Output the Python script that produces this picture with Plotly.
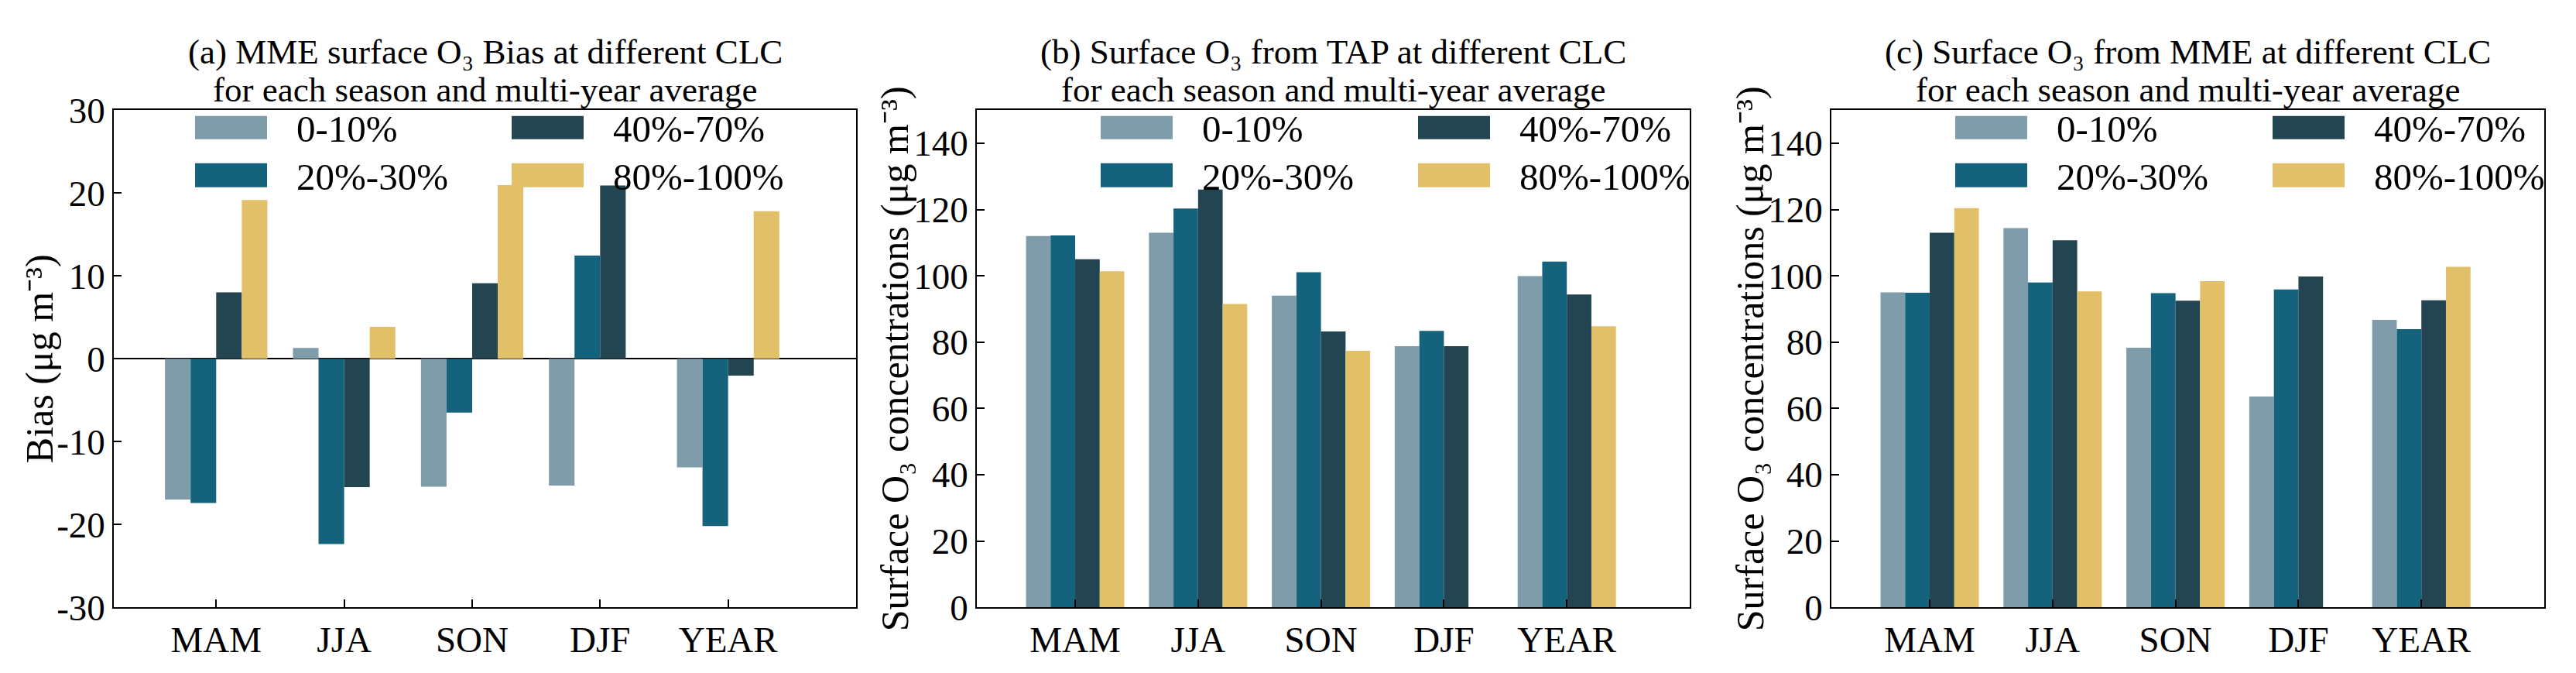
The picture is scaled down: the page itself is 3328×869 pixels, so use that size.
import plotly.graph_objects as go

# ---------------- data ----------------
seasons = ["MAM", "JJA", "SON", "DJF", "YEAR"]
clc_labels = ["0-10%", "20%-30%", "40%-70%", "80%-100%"]
clc_colors = ["#7f9caa", "#15627d", "#234552", "#e2c06a"]

# (a) MME surface O3 bias
bias_0_10 = [-17.0, 1.3, -15.45, -15.3, -13.1]
bias_20_30 = [-17.4, -22.35, -6.5, 12.45, -20.2]
bias_40_70 = [8.0, -15.5, 9.1, 20.9, -2.05]
bias_80_100 = [19.15, 3.85, 20.95, None, 17.8]

# (b) surface O3 from TAP
tap_0_10 = [112.0, 113.0, 94.0, 78.8, 99.9]
tap_20_30 = [112.2, 120.3, 101.1, 83.4, 104.3]
tap_40_70 = [105.0, 126.0, 83.2, 78.8, 94.4]
tap_80_100 = [101.4, 91.5, 77.4, None, 84.8]

# (c) surface O3 from MME
mme_0_10 = [95.0, 114.4, 78.3, 63.6, 86.7]
mme_20_30 = [94.9, 98.0, 94.8, 95.9, 83.9]
mme_40_70 = [113.0, 110.7, 92.5, 99.8, 92.6]
mme_80_100 = [120.4, 95.3, 98.4, None, 102.7]

bias_ticks = [-30, -20, -10, 0, 10, 20, 30]
conc_ticks = [0, 20, 40, 60, 80, 100, 120, 140]

title_line2 = "for each season and multi-year average"
titles_a = ["(a) MME surface O₃ Bias at different CLC", title_line2]
titles_b = ["(b) Surface O₃ from TAP at different CLC", title_line2]
titles_c = ["(c) Surface O₃ from MME at different CLC", title_line2]
ylabel_a = "Bias (μg m⁻³)"
ylabel_bc = "Surface O₃ concentrations (μg m⁻³)"

# ---------------- layout helpers ----------------
W, H = 3328, 869
FONT = "Liberation Serif"
FS_TICK = 47
FS_TITLE = 45
FS_YLAB = 50
FS_LEG = 49


def fx(p):
    return p / W


def fy(p):
    return 1 - p / H


AX_TOP, AX_BOT = 115, 798

panels = [
    dict(sfx="", left=139, right=1098, series=[bias_0_10, bias_20_30, bias_40_70, bias_80_100],
         titles=titles_a, ylabel=ylabel_a, ylab_x=43, yrange=[-30, 30], ticks=bias_ticks,
         leg_off=(105, 514), zeroline=True),
    dict(sfx="2", left=1254, right=2175, series=[tap_0_10, tap_20_30, tap_40_70, tap_80_100],
         titles=titles_b, ylabel=ylabel_bc, ylab_x=1148, yrange=[0, 150], ticks=conc_ticks,
         leg_off=(160, 570), zeroline=False),
    dict(sfx="3", left=2358, right=3279, series=[mme_0_10, mme_20_30, mme_40_70, mme_80_100],
         titles=titles_c, ylabel=ylabel_bc, ylab_x=2253, yrange=[0, 150], ticks=conc_ticks,
         leg_off=(160, 570), zeroline=False),
]

fig = go.Figure()
shapes = []
annotations = []
layout_axes = {}

for p in panels:
    xa = "x" + p["sfx"]
    ya = "y" + p["sfx"]
    for vals, name, col in zip(p["series"], clc_labels, clc_colors):
        fig.add_trace(go.Bar(x=seasons, y=vals, name=name, marker_color=col,
                             marker_line_width=0, xaxis=xa, yaxis=ya, showlegend=False))
    layout_axes["xaxis" + p["sfx"]] = dict(
        domain=[fx(p["left"]), fx(p["right"])], anchor=ya, type="category",
        range=[-0.8, 5.0], showline=True, linecolor="black", linewidth=1.5, mirror=True,
        ticks="inside", ticklen=10, tickwidth=1.5, tickcolor="black", showgrid=False,
        tickfont=dict(family=FONT, size=FS_TICK, color="black"), fixedrange=True)
    layout_axes["yaxis" + p["sfx"]] = dict(
        domain=[fy(AX_BOT), fy(AX_TOP)], anchor=xa, range=p["yrange"],
        tickvals=p["ticks"], ticktext=[str(t) for t in p["ticks"]],
        showline=True, linecolor="black", linewidth=1.5, mirror=True,
        ticks="inside", ticklen=10, tickwidth=1.5, tickcolor="black", showgrid=False,
        zeroline=p["zeroline"], zerolinecolor="black", zerolinewidth=2,
        tickfont=dict(family=FONT, size=FS_TICK, color="black"), fixedrange=True)

    cx = (p["left"] + p["right"]) / 2
    # two-line title, one annotation per line
    for txt, yc in zip(p["titles"], [35, 87]):
        annotations.append(dict(text=txt, x=fx(cx), y=fy(yc), xref="paper", yref="paper",
                                xanchor="center", yanchor="middle", showarrow=False,
                                font=dict(family=FONT, size=FS_TITLE, color="black")))
    # y label
    annotations.append(dict(text=p["ylabel"], x=fx(p["ylab_x"]), y=fy((AX_TOP + AX_BOT) / 2),
                            xref="paper", yref="paper", xanchor="center", yanchor="middle",
                            textangle=-90, showarrow=False,
                            font=dict(family=FONT, size=FS_YLAB, color="black")))
    # manual legend: 2 columns x 2 rows
    rows = [(123, 155), (188, 221)]
    for i, (name, col) in enumerate(zip(clc_labels, clc_colors)):
        c, r = divmod(i, 2)
        x0 = p["left"] + p["leg_off"][c]
        x1 = x0 + 93
        y0, y1 = rows[r]
        shapes.append(dict(type="rect", xref="paper", yref="paper",
                           x0=fx(x0), x1=fx(x1), y0=fy(y1), y1=fy(y0),
                           fillcolor=col, line=dict(width=0)))
        annotations.append(dict(text=name, x=fx(x1 + 36), y=fy((y0 + y1) / 2 + 2),
                                xref="paper", yref="paper", xanchor="left", yanchor="middle",
                                showarrow=False,
                                font=dict(family=FONT, size=FS_LEG, color="black")))

fig.update_layout(
    width=W, height=H, autosize=False,
    margin=dict(l=0, r=0, t=0, b=0),
    paper_bgcolor="white", plot_bgcolor="white",
    barmode="group", bargap=0.2, bargroupgap=0,
    font=dict(family=FONT, size=FS_TICK, color="black"),
    shapes=shapes, annotations=annotations,
    **layout_axes,
)

fig.write_html("out.html")
